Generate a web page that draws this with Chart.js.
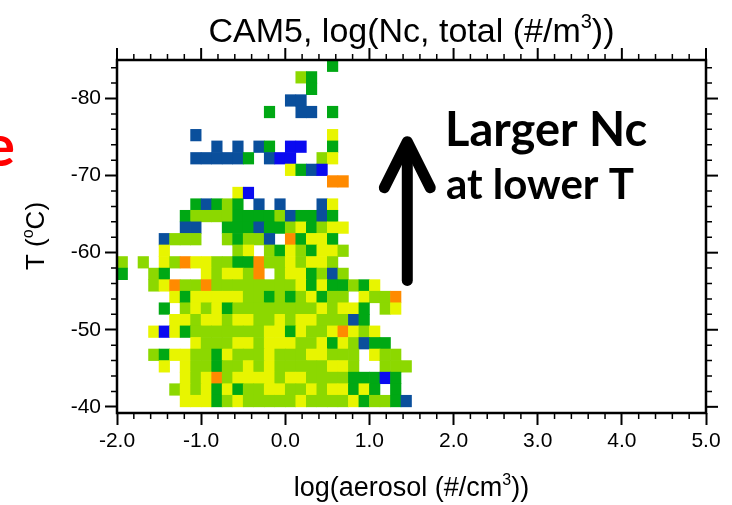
<!DOCTYPE html>
<html>
<head>
<meta charset="utf-8">
<script src="https://cdn.jsdelivr.net/npm/chart.js@4.4.1/dist/chart.umd.min.js"></script>
<style>
  html, body { margin: 0; padding: 0; background: #ffffff; }
  #wrap { width: 732px; height: 505px; position: relative; }
  canvas { display: block; }
</style>
</head>
<body>
<div id="wrap"><canvas id="chart" width="732" height="505"></canvas></div>
<script>
// Aerosol bins, log10(#/cm3): columns of 0.125 starting at -2.0
const aerosolBinStart = -2.0;
const aerosolBinWidth = 0.125;
// Temperature bins, deg C: rows of 1.5 deg from -85 (first row) down to -40
const tempBinStart = -85;
const tempBinWidth = 1.5;

// log(Nc) value carried by each class code in the rows below
const ncCodeValue = { O: 5.0, Y: 5.5, L: 6.0, G: 6.5, D: 7.0, B: 7.5 };

// One string per temperature bin (coldest first), one character per aerosol bin; '.' = no data
const ncRows = [
  "....................G.......",
  ".................LG.........",
  "..................G.........",
  "................DD..........",
  "..............G..DD.G.......",
  "............................",
  ".......D............Y.......",
  ".........D.D.DG.BB..G.......",
  ".......DDDDDG.DBB..LY.......",
  "................YGDB........",
  "....................OO......",
  "...........YB...............",
  ".......GDGLG.D.D...DY.......",
  "......GLLLLGGGGLDGGDG.......",
  "......DD..GGGDGGLYGLYY......",
  "....DLLL..LGLLD.OGYYG.......",
  "....Y......LY.LGYLGYYL......",
  "L.L.YLOYYLLGGOLLYLYYL.......",
  "G..LG...YLYYLO.LYYGLDL......",
  "...LYOLLOLLLLLLLLYGYGGLGY...",
  ".....YGYYYYYLLGLGLYGLL.YLLO.",
  "....G.LYLYGLLLLLLLLYLYYG.LY.",
  ".....YYLYYLYYLLYLYYLLLDG....",
  "...YBYGLLLLLLLYYGYLLYOYLY...",
  ".......YLLLYYLYYYLLYGYLDGG..",
  "...LGYYLLGYLLLYLLLYYLLL.YLL.",
  "....Y.YLLGLLYLYLLLLLYYL..LLL",
  "......YLYOLYYYYLYYLLLLGGGBG.",
  ".....LYLYGYGLLYYLLYLYYGYG.G.",
  "......YYYGLYLLLLLYLLLLYGLLGD"
];

// Colour classes of log(Nc)
const ncClassBreaks = [5.25, 5.75, 6.25, 6.75, 7.25];
const ncClassColors = ['#ff8a00', '#e8f500', '#8cd800', '#00a814', '#0a4f9c', '#0a0af0'];

// Axis ticks
const xTickValues = [-2, -1, 0, 1, 2, 3, 4, 5];
const xMinorStep = 0.2;
const yTickValues = [-80, -70, -60, -50, -40];
const yMinorStep = 2;

function colorFor(v) {
  let i = 0;
  while (i < ncClassBreaks.length && v > ncClassBreaks[i]) i++;
  return ncClassColors[i];
}

// Build one floating bar per filled cell: x at the bin centre, y spanning the temperature bin
const cells = [];
ncRows.forEach((row, k) => {
  const t0 = tempBinStart + k * tempBinWidth;
  const t1 = t0 + tempBinWidth;
  Array.from(row).forEach((code, j) => {
    if (code === '.') return;
    cells.push({
      x: aerosolBinStart + (j + 0.5) * aerosolBinWidth,
      y: [t0, t1],
      v: ncCodeValue[code]
    });
  });
});

const FONT = '"Liberation Sans", Arial, Helvetica, sans-serif';
const BOLD_FONT = 'Lato, "Open Sans", sans-serif';

// Draw a string made of normal and superscript pieces, centred on (x, y)
function drawRich(ctx, parts, size, x, y, rotate) {
  ctx.save();
  ctx.translate(x, y);
  if (rotate) ctx.rotate(-Math.PI / 2);
  ctx.fillStyle = '#000';
  ctx.textBaseline = 'alphabetic';
  ctx.textAlign = 'left';
  const supSize = Math.round(size * 0.6);
  let total = 0;
  parts.forEach(p => {
    ctx.font = (p.sup ? supSize : size) + 'px ' + FONT;
    p.w = ctx.measureText(p.t).width;
    total += p.w;
  });
  let cx = -total / 2;
  parts.forEach(p => {
    ctx.font = (p.sup ? supSize : size) + 'px ' + FONT;
    ctx.fillText(p.t, cx, p.sup ? -size * 0.42 : 0);
    cx += p.w;
  });
  ctx.restore();
}

const framePlugin = {
  id: 'frameAndNotes',
  afterDraw(chart) {
    const ctx = chart.ctx;
    const xs = chart.scales.x;
    const ys = chart.scales.y;
    const a = chart.chartArea;
    ctx.save();
    ctx.strokeStyle = '#000';

    // minor ticks on all four sides, major ticks mirrored on top and right
    const majorLen = 12, minorLen = 6;
    const xMin = xs.min, xMax = xs.max;
    const nx = Math.round((xMax - xMin) / xMinorStep);
    for (let i = 0; i <= nx; i++) {
      const v = xMin + i * xMinorStep;
      const isMajor = xTickValues.some(t => Math.abs(t - v) < 1e-6);
      const px = xs.getPixelForValue(v);
      const len = isMajor ? majorLen : minorLen;
      ctx.lineWidth = isMajor ? 2 : 1.5;
      ctx.beginPath();
      if (!isMajor) { ctx.moveTo(px, a.bottom); ctx.lineTo(px, a.bottom + len); }
      ctx.moveTo(px, a.top); ctx.lineTo(px, a.top - len);
      ctx.stroke();
    }
    for (let v = -84; v <= -40; v += yMinorStep) {
      const isMajor = yTickValues.includes(v);
      const py = ys.getPixelForValue(v);
      const len = isMajor ? majorLen : minorLen;
      ctx.lineWidth = isMajor ? 2 : 1.5;
      ctx.beginPath();
      if (!isMajor) { ctx.moveTo(a.left, py); ctx.lineTo(a.left - len, py); }
      ctx.moveTo(a.right, py); ctx.lineTo(a.right + len, py);
      ctx.stroke();
    }

    // plot frame
    ctx.lineWidth = 2.5;
    ctx.strokeRect(a.left, a.top, a.right - a.left, a.bottom - a.top);
    ctx.restore();

    // titles
    drawRich(ctx, [{ t: 'CAM5, log(Nc, total (#/m' }, { t: '3', sup: true }, { t: '))' }], 34, (a.left + a.right) / 2, 42, false);
    drawRich(ctx, [{ t: 'log(aerosol (#/cm' }, { t: '3', sup: true }, { t: '))' }], 27, (a.left + a.right) / 2, 496, false);
    drawRich(ctx, [{ t: 'T (' }, { t: 'o', sup: true }, { t: 'C)' }], 26, 44, 236, true);

    // annotation: arrow and text
    ctx.save();
    const ax = xs.getPixelForValue(1.45);
    const yTail = ys.getPixelForValue(-56.4);
    const yHead = ys.getPixelForValue(-74.4);
    ctx.strokeStyle = '#000';
    ctx.lineWidth = 11;
    ctx.lineCap = 'round';
    ctx.lineJoin = 'round';
    ctx.beginPath();
    ctx.moveTo(ax, yTail); ctx.lineTo(ax, yHead + 4);
    ctx.stroke();
    ctx.beginPath();
    ctx.moveTo(ax - 23, yHead + 46); ctx.lineTo(ax, yHead); ctx.lineTo(ax + 23, yHead + 46);
    ctx.stroke();

    ctx.fillStyle = '#000';
    ctx.textAlign = 'left';
    ctx.textBaseline = 'alphabetic';
    ctx.font = 'bold 47px ' + BOLD_FONT;
    ctx.fillText('Larger Nc', 445, 146);
    ctx.font = 'bold 42px ' + BOLD_FONT;
    ctx.fillText('at lower T', 446, 199);

    ctx.fillStyle = '#ff0000';
    ctx.textAlign = 'right';
    ctx.font = 'bold 58px ' + BOLD_FONT;
    ctx.fillText('e', 15, 166);
    ctx.restore();
  }
};

new Chart(document.getElementById('chart').getContext('2d'), {
  type: 'bar',
  data: {
    datasets: [{
      data: cells,
      backgroundColor: c => colorFor(c.raw ? c.raw.v : 0),
      borderWidth: 0,
      barPercentage: 1,
      categoryPercentage: 1
    }]
  },
  options: {
    responsive: false,
    animation: false,
    events: [],
    layout: { padding: { top: 60, right: 26, left: 0, bottom: 0 } },
    plugins: { legend: { display: false }, tooltip: { enabled: false }, title: { display: false } },
    scales: {
      x: {
        type: 'linear',
        min: -2, max: 5,
        offset: false,
        afterFit: s => { s.height = 92; },
        afterBuildTicks: s => { s.ticks = xTickValues.map(v => ({ value: v })); },
        grid: { display: true, offset: false, drawOnChartArea: false, drawTicks: true, tickLength: 12, tickColor: '#000', tickWidth: 2 },
        border: { display: false },
        ticks: {
          color: '#000', padding: 4, maxRotation: 0, autoSkip: false,
          font: { family: FONT, size: 21 },
          callback: v => Number(v).toFixed(1)
        }
      },
      y: {
        type: 'linear',
        reverse: true,
        min: -85, max: -39.2,
        afterFit: s => { s.width = 117; },
        afterBuildTicks: s => { s.ticks = yTickValues.map(v => ({ value: v })); },
        grid: { display: true, offset: false, drawOnChartArea: false, drawTicks: true, tickLength: 12, tickColor: '#000', tickWidth: 2 },
        border: { display: false },
        ticks: {
          color: '#000', padding: 4, autoSkip: false,
          font: { family: FONT, size: 21 },
          callback: v => String(v)
        }
      }
    }
  },
  plugins: [framePlugin]
});
</script>
</body>
</html>
